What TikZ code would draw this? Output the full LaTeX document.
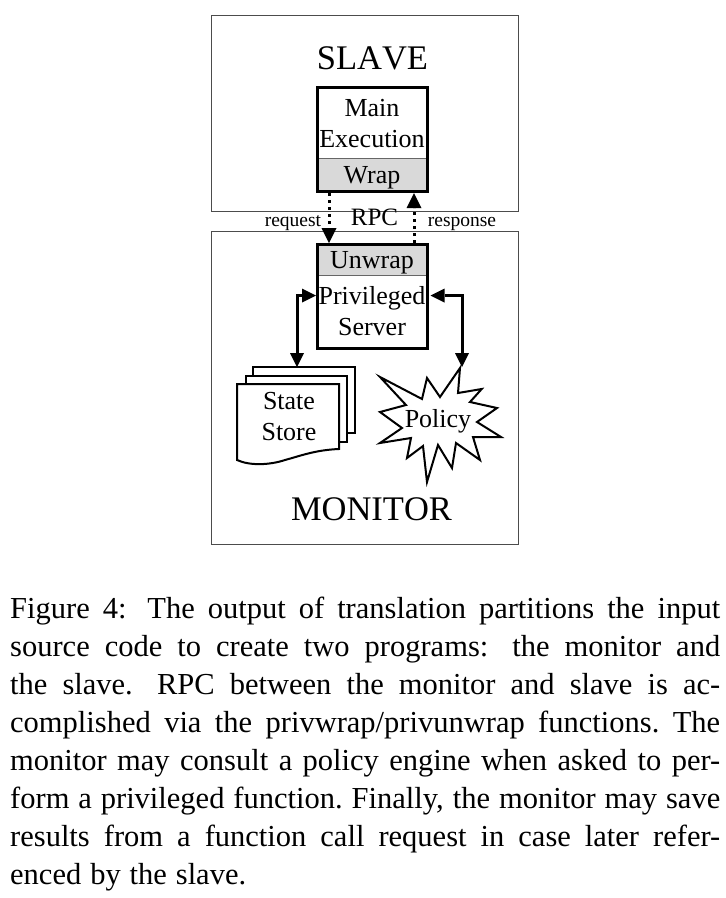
\documentclass[tikz,border=0pt]{standalone}
\usepackage{fontspec}
\setmainfont{Liberation Serif}
\usetikzlibrary{arrows.meta}
\newcommand{\capline}[1]{\hbox to 710pt{\spaceskip=.25em plus 1fil minus .2em\xspaceskip=\spaceskip #1}}
\newcommand{\wide}{\hskip .4em plus 1.6fil minus .2em\relax}
\tikzset{
  outer/.style={draw=black!70,line width=1pt,fill=white,minimum width=307pt,inner sep=0pt,anchor=north west},
  core/.style={draw=black,line width=3pt,minimum width=110pt,inner sep=0pt,anchor=north west},
  grayband/.style={fill=black!15,draw=black!60,line width=1pt,minimum width=110pt,minimum height=32pt,inner sep=0pt,anchor=north west},
  title/.style={font=\fontsize{34.5}{38}\selectfont\addfontfeature{Kerning=Off},inner sep=0pt,anchor=base},
  boxtext/.style={font=\fontsize{26}{32}\selectfont,inner sep=0pt,align=center},
  boxline/.style={font=\fontsize{26}{32}\selectfont,inner sep=0pt,anchor=base},
  small/.style={font=\fontsize{19.5}{24}\selectfont,inner sep=0pt,anchor=base},
  rpcdots/.style={line width=3pt,dash pattern=on 3pt off 4pt,-{Triangle[width=15pt,length=15pt,line width=0pt]}},
  both/.style={line width=3pt,{Triangle[width=14pt,length=14pt,line width=0pt]}-{Triangle[width=14pt,length=14pt,line width=0pt]}},
  shapeline/.style={draw=black,line width=2pt,fill=white,line join=miter},
}
\begin{document}
\begin{tikzpicture}[x=1pt,y=-1pt]
\useasboundingbox (0,0) rectangle (726,898);
\fill[white] (0,0) rectangle (726,898);
% outer frames
\node[outer,minimum height=196pt] (slave) at (211,14.5) {};
\node[outer,minimum height=313pt] (monitor) at (211,230.5) {};
\node[title] (slavet) at (372.5,69) {SLAVE};
\node[title] (monitort) at (371.5,520) {MONITOR};
% slave box
\node[grayband] (wrap) at (316,158) {};
\node[core,minimum height=104pt] (main) at (316,86) {};
\node[boxtext] (maint) at (372,123.5) {Main\\[-0.5pt]Execution};
\node[boxline] (wrapt) at (372,183) {Wrap};
% monitor box
\node[grayband] (unwrap) at (316,243) {};
\node[core,minimum height=104pt] (priv) at (316,243) {};
\node[boxline] (unwrapt) at (372,268) {Unwrap};
\node[boxtext] (privt) at (372,311) {Privileged\\[-0.5pt]Server};
% rpc labels
\node[font=\fontsize{25}{30}\selectfont,inner sep=0pt,anchor=base] (rpc) at (374.5,225) {RPC};
\node[small] (req) at (293,226) {request};
\node[small] (resp) at (462,226) {response};
% state store
\path[shapeline] (253,367) -- (355,367) -- (355,433) -- (253,433) -- cycle;
\path[shapeline] (246,376) -- (347,376) -- (347,442) -- (246,442) -- cycle;
\path[shapeline] (237,384) -- (339,384) -- (339,449)
  .. controls (315,450) and (300,456) .. (285,460)
  .. controls (270,465) and (250,466) .. (237,460) -- cycle;
\node[boxtext] (store) at (289,416.5) {State\\[-0.5pt]Store};
\coordinate (storetop) at (297,367);
% policy star
\path[shapeline] (460,368) -- (458,393) -- (481.7,389) -- (470,402) -- (497,408) -- (477,422)
  -- (501,437) -- (473,437) -- (480,460) -- (456,443) -- (452,468) -- (438,445)
  -- (427,482) -- (423,446) -- (407,458) -- (411,438) -- (380,443) -- (402,428)
  -- (380,412) -- (406,405) -- (380,377) -- (422,399) -- (427,378) -- (440,397) -- cycle;
\node[font=\fontsize{26}{32}\selectfont,inner sep=0pt,anchor=base] (policy) at (438,427.5) {Policy};
\coordinate (policytop) at (462,367);
% connectors
\draw[rpcdots] ([xshift=13pt]main.south west) -- ([xshift=13pt]priv.north west);
\draw[rpcdots] ([xshift=98pt]priv.north west) -- ([xshift=98pt]main.south west);
\draw[both] (storetop) |- ([yshift=1pt]priv.west);
\draw[both] (policytop) |- ([xshift=1.5pt,yshift=1pt]priv.east);
% caption
\node[anchor=north west,inner sep=0pt,text width=710pt,font=\fontsize{30.5}{38}\selectfont] (caption) at (10,597) {%
\capline{Figure 4:\wide The output of translation partitions the input}
\capline{source code to create two programs:\wide the monitor and}
\capline{the slave.\wide RPC between the monitor and slave is ac-}
\capline{complished via the privwrap/privunwrap functions. The}
\capline{monitor may consult a policy engine when asked to per-}
\capline{form a privileged function. Finally, the monitor may save}
\capline{results from a function call request in case later refer-}
\hbox to 236pt{\spaceskip=.25em plus 1fil minus .2em\xspaceskip=\spaceskip enced by the slave.}};
\end{tikzpicture}
\end{document}
